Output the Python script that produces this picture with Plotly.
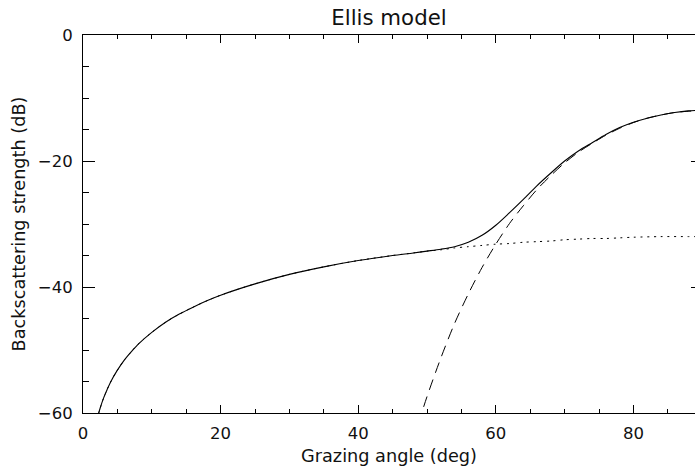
import plotly.graph_objects as go

# Grazing angle (deg) and backscattering strength (dB)
total_x = [2, 2.5, 3, 3.5, 4, 5, 6, 7, 8, 10, 12, 14, 16, 18, 20, 25, 30, 35, 40, 45,
           48, 50, 52, 54, 56, 58, 60, 62, 64, 66, 68, 70, 72, 74, 76, 78, 80, 82, 84, 86, 88, 90]
total_y = [-61.1, -59.2, -57.6, -56.3, -55.1, -53.2, -51.6, -50.3, -49.1, -47.2, -45.6, -44.3,
           -43.2, -42.2, -41.3, -39.5, -38.0, -36.8, -35.8, -35.0,
           -34.6, -34.3, -34.0, -33.6, -32.9, -31.8, -30.2, -28.2, -26.1, -23.9, -21.9, -20.0,
           -18.4, -17.1, -15.8, -14.7, -13.85, -13.2, -12.7, -12.3, -12.05, -11.95]

lambert_x = [2, 2.5, 3, 3.5, 4, 5, 6, 7, 8, 10, 12, 14, 16, 18, 20, 25, 30, 35, 40, 45,
             48, 50, 52, 54, 56, 58, 60, 62, 64, 66, 68, 70, 72, 74, 76, 78, 80, 84, 88, 90]
lambert_y = [-61.1, -59.2, -57.6, -56.3, -55.1, -53.2, -51.6, -50.3, -49.1, -47.2, -45.6, -44.3,
             -43.2, -42.2, -41.3, -39.5, -38.0, -36.8, -35.8, -35.0,
             -34.6, -34.3, -34.1, -33.8, -33.6, -33.4, -33.2, -33.1, -32.9, -32.8, -32.7, -32.5,
             -32.4, -32.3, -32.3, -32.2, -32.1, -32.0, -32.0, -32.0]

facet_x = [48, 49, 50, 52, 54, 56, 58, 60, 62, 64, 66, 68, 70, 72, 74, 76, 78, 80, 82, 84, 86, 88, 90]
facet_y = [-64.5, -60.8, -57.4, -51.3, -45.8, -41.1, -36.9, -33.2, -29.9, -27.1, -24.5, -22.3,
           -20.3, -18.6, -17.2, -15.9, -14.8, -13.9, -13.2, -12.7, -12.3, -12.1, -12.0]

title_text = "Ellis model"
x_title = "Grazing angle (deg)"
y_title = "Backscattering strength (dB)"

FONT = "DejaVu Sans"

fig = go.Figure()
fig.add_trace(go.Scatter(x=lambert_x, y=lambert_y, mode="lines", yaxis="y2",
                         line=dict(color="black", width=1, dash="2px,4.7px", shape="spline", smoothing=0.8),
                         showlegend=False, hoverinfo="skip"))
fig.add_trace(go.Scatter(x=facet_x, y=facet_y, mode="lines",
                         line=dict(color="black", width=1, dash="11px,7px", shape="spline", smoothing=0.8),
                         showlegend=False, hoverinfo="skip"))
fig.add_trace(go.Scatter(x=total_x, y=total_y, mode="lines",
                         line=dict(color="black", width=1.1, shape="spline", smoothing=0.8),
                         showlegend=False, hoverinfo="skip"))

fig.update_layout(
    width=695, height=468,
    margin=dict(l=83, r=0, t=35, b=55),
    paper_bgcolor="white", plot_bgcolor="white",
    font=dict(family=FONT, size=16.5, color="#111111"),
    title=dict(text=title_text, x=0.5, xref="paper", xanchor="center",
               y=1 - 18 / 468, yref="container", yanchor="middle",
               font=dict(family=FONT, size=21.3, color="#111111")),
    xaxis=dict(range=[0, 88.95], tick0=0, dtick=20, showgrid=False, zeroline=False,
               showline=True, linecolor="black", linewidth=1, mirror="ticks",
               ticks="inside", ticklen=8, tickwidth=1, tickcolor="black",
               minor=dict(ticks="inside", dtick=5, tick0=0, ticklen=4, tickcolor="black", showgrid=False),
               tickfont=dict(size=16.5), ticklabelstandoff=5,
               title=dict(text=x_title, font=dict(size=17.7), standoff=7)),
    yaxis=dict(range=[-60, 0], tick0=0, dtick=20, showgrid=False, zeroline=False,
               showline=True, linecolor="black", linewidth=1,
               ticks="inside", ticklen=12, tickwidth=1, tickcolor="black",
               minor=dict(ticks="inside", dtick=5, ticklen=6, tickcolor="black", showgrid=False),
               tickfont=dict(size=16.5), ticklabelstandoff=6,
               title=dict(text=y_title, font=dict(size=17.7), standoff=7)),
    yaxis2=dict(range=[-60, 0], overlaying="y", side="right", tick0=0, dtick=20,
                showgrid=False, zeroline=False, showline=False,
                ticks="inside", ticklen=4, tickwidth=1, tickcolor="black",
                showticklabels=False),
)

fig.write_html("out.html")
